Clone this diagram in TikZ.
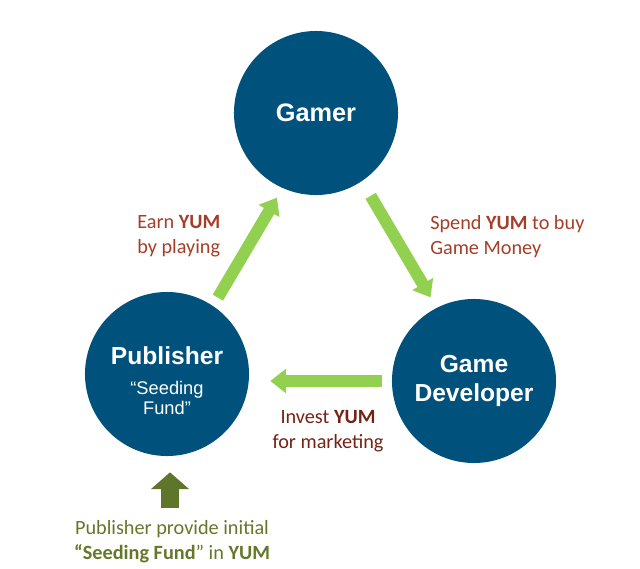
\documentclass[tikz,border=0pt]{standalone}
\usepackage{fontspec}
\setmainfont{Carlito}
\newfontfamily\hubfont{Liberation Sans}
\usetikzlibrary{arrows.meta}
\definecolor{ringblue}{RGB}{0,82,125}
\definecolor{flowgreen}{RGB}{146,208,80}
\definecolor{seedgreen}{RGB}{95,117,42}
\definecolor{earnred}{RGB}{165,62,40}
\definecolor{investred}{RGB}{115,35,20}
\definecolor{seedtext}{RGB}{100,120,40}
\newcommand\seedsize{\mdseries\fontsize{13}{14.2}\selectfont}
\tikzset{
  hub/.style={circle,fill=ringblue,minimum size=4.1cm,inner sep=0pt,text=white,align=center},
  hubname/.style={font=\hubfont\bfseries\fontsize{17.5}{20}\selectfont},
  flow/.style={draw=flowgreen,line width=8.5pt,-{Triangle[width=16.5pt,length=11pt]}},
  seedflow/.style={draw=seedgreen,line width=12.8pt,-{Triangle[width=26.5pt,length=12pt]}},
  note/.style={inner sep=0pt,font=\fontsize{14.4}{17.8}\selectfont}
}
\begin{document}
\begin{tikzpicture}[x=0.025cm,y=-0.025cm]
\useasboundingbox (0,0) rectangle (640,568);
\node[hub,font=\hubfont\bfseries\fontsize{18}{21}\selectfont] (gamer) at (316,113) {Gamer};
\node[hub] (pub) at (167,374) {};
\node[hubname,text=white,align=center,inner sep=0pt] (pubname) at ([yshift=-5pt]pub.center)
  {Publisher\\[1.5pt]{\seedsize “Seeding}\\[-5.8pt]{\seedsize Fund”}};
\node[hub,hubname] (dev) at (474,381) {Game\\Developer};
\draw[flow,shorten <=9.5*0.711pt,shorten >=11*0.711pt] (pub.56) -- (gamer.246);
\draw[flow,shorten <=17*0.711pt,shorten >=12*0.711pt] (gamer.304) -- (dev.117);
\draw[flow,shorten <=10*0.711pt,shorten >=21*0.711pt] (dev.west) -- (pub.east |- dev.west);
\node[note,text=earnred,anchor=north west,align=left] (earn) at (137,215) {Earn \textbf{YUM}\\by playing};
\node[note,text=earnred,anchor=north west,align=left] (spend) at (430,215) {Spend \textbf{YUM} to buy\\Game Money};
\node[note,text=investred,anchor=north,align=center] (invest) at (328,410) {Invest \textbf{YUM}\\for marketing};
\node[note,text=seedtext,anchor=north,align=center] (seed) at (172,520) {Publisher provide initial\\\textbf{“Seeding Fund}” in \textbf{YUM}};
\coordinate (seedfoot) at (170,508);
\draw[seedflow,shorten >=16*0.711pt] (seedfoot) -- (seedfoot |- pub.south);
\end{tikzpicture}
\end{document}
